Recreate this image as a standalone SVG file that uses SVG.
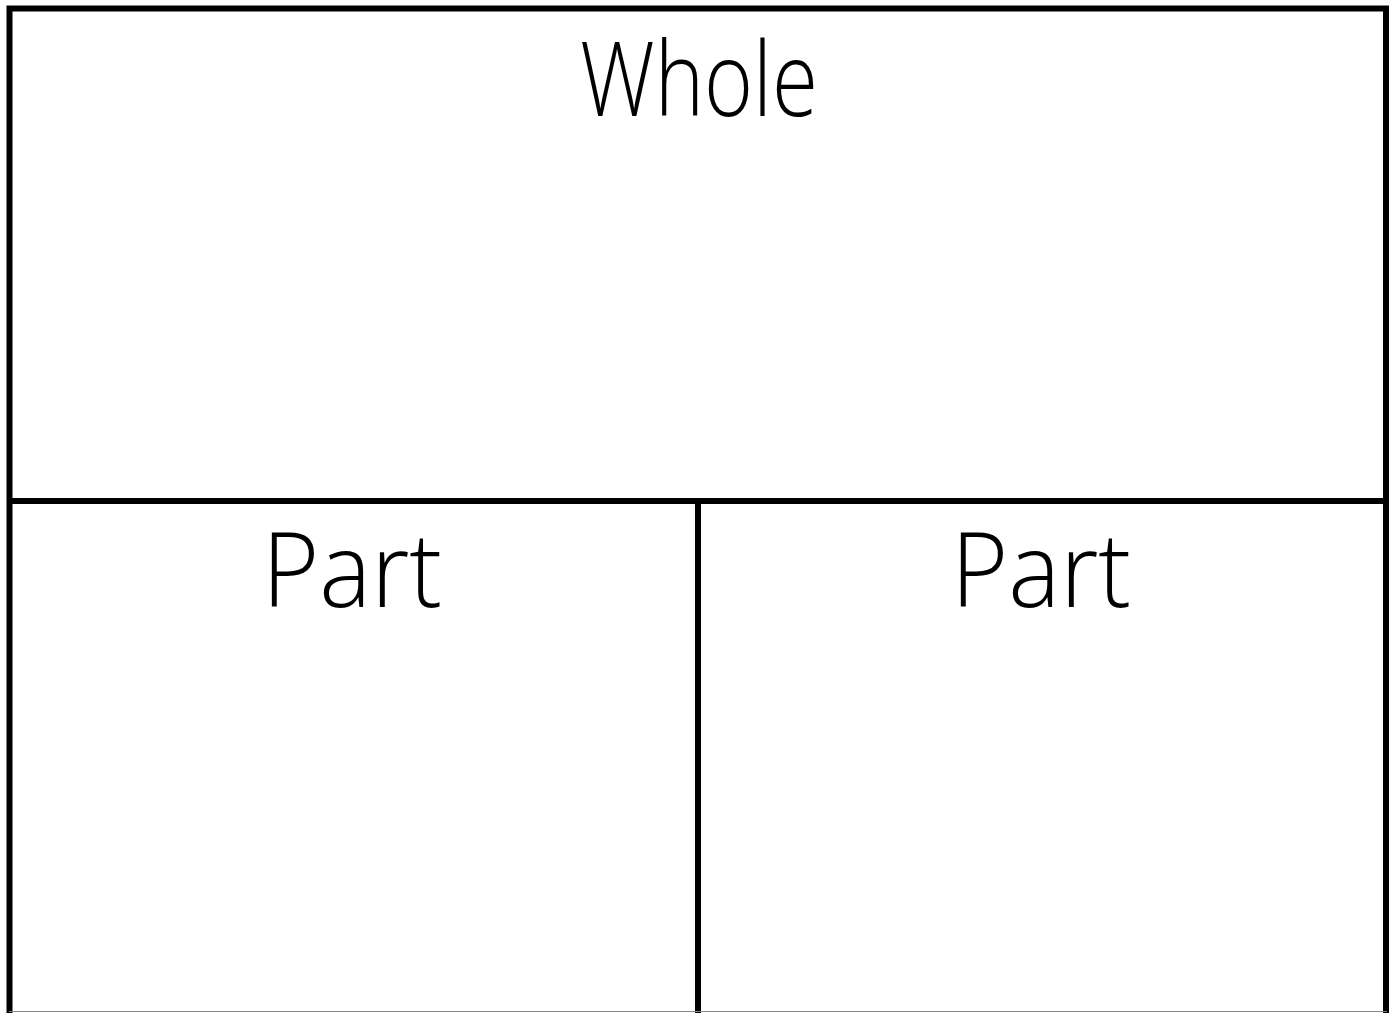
<svg xmlns="http://www.w3.org/2000/svg" width="1394" height="1013" viewBox="0 0 1394 1013">
<style>
.ln{stroke:#000;stroke-width:6;fill:none}
.lbl{font-family:"Open Sans","Liberation Sans",Arial,sans-serif;font-weight:300;font-size:104px;fill:#000;text-anchor:middle}
</style>
<rect x="0" y="0" width="1394" height="1013" fill="#fff"/>
<g id="connectors">
<path class="ln" d="M9.5,1013 V8.5 H1386 V1013"/>
<line class="ln" x1="9.5" y1="501" x2="1386" y2="501"/>
<line class="ln" x1="698" y1="501" x2="698" y2="1013"/>
<line x1="9" y1="1011.5" x2="1387" y2="1011.5" stroke="#888" stroke-width="1"/>
</g>
<g id="whole"><text class="lbl" x="699" y="116" textLength="238" lengthAdjust="spacingAndGlyphs">Whole</text></g>
<g id="part1"><text class="lbl" x="352" y="607" textLength="180" lengthAdjust="spacingAndGlyphs">Part</text></g>
<g id="part2"><text class="lbl" x="1041" y="607" textLength="180" lengthAdjust="spacingAndGlyphs">Part</text></g>
</svg>
